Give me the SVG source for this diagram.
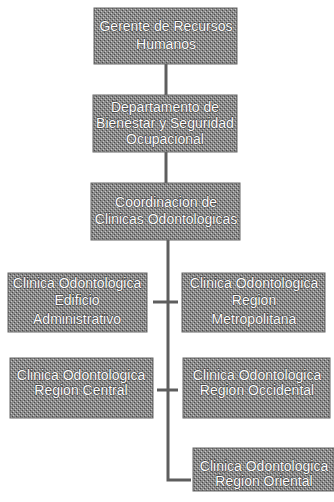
<svg xmlns="http://www.w3.org/2000/svg" width="334" height="502" viewBox="0 0 334 502">
<defs>
<pattern id="dith" width="4" height="4" patternUnits="userSpaceOnUse">
<rect width="4" height="4" fill="#8a8a8a"/>
<rect x="0" y="0" width="1" height="1" fill="#4a4a4a"/>
<rect x="2" y="2" width="1" height="1" fill="#4a4a4a"/>
<rect x="1" y="3" width="1" height="1" fill="#c8c8c8"/>
<rect x="3" y="1" width="1" height="1" fill="#c8c8c8"/>
</pattern>
</defs>
<style>
.box{fill:url(#dith);stroke:#666;stroke-width:1}
.t{font-family:"Liberation Sans",Arial,sans-serif;font-size:14px;fill:#fff;stroke:#2a2a2a;stroke-width:0.8;paint-order:stroke;text-anchor:middle}
.c{stroke:#5e5e5e;stroke-width:3;fill:none}
</style>
<rect width="334" height="502" fill="#fff"/>
<g id="connectors">
<line class="c" x1="166" y1="64" x2="166" y2="95"/>
<line class="c" x1="166" y1="152" x2="166" y2="183"/>
<polyline class="c" points="168,240 168,480 191,480"/>
<line class="c" x1="153" y1="302" x2="178" y2="302"/>
<line class="c" x1="157" y1="390" x2="178" y2="390"/>
</g>
<g id="n1">
<rect class="box" x="94" y="8" width="143" height="56"/>
<text class="t" x="166" y="31">Gerente de Recursos</text>
<text class="t" x="166" y="49">Humanos</text>
</g>
<g id="n2">
<rect class="box" x="93" y="95" width="144" height="57"/>
<text class="t" x="165" y="112">Departamento de</text>
<text class="t" x="165" y="128">Bienestar y Seguridad</text>
<text class="t" x="165" y="144">Ocupacional</text>
</g>
<g id="n3">
<rect class="box" x="91" y="183" width="149" height="57"/>
<text class="t" x="166" y="207">Coordinacion de</text>
<text class="t" x="166" y="224">Clinicas Odontologicas</text>
</g>
<g id="n4">
<rect class="box" x="8" y="273" width="139" height="59"/>
<text class="t" x="77" y="288">Clinica Odontologica</text>
<text class="t" x="77" y="305">Edificio</text>
<text class="t" x="77" y="324">Administrativo</text>
</g>
<g id="n5">
<rect class="box" x="182" y="273" width="143" height="59"/>
<text class="t" x="254" y="288">Clinica Odontologica</text>
<text class="t" x="254" y="305">Region</text>
<text class="t" x="254" y="324">Metropolitana</text>
</g>
<g id="n6">
<rect class="box" x="10" y="358" width="143" height="60"/>
<text class="t" x="81" y="380">Clinica Odontologica</text>
<text class="t" x="81" y="395">Region Central</text>
</g>
<g id="n7">
<rect class="box" x="183" y="358" width="147" height="60"/>
<text class="t" x="257" y="380">Clinica Odontologica</text>
<text class="t" x="257" y="395">Region Occidental</text>
</g>
<g id="n8">
<rect class="box" x="193" y="448" width="141" height="43"/>
<text class="t" x="264" y="471">Clinica Odontologica</text>
<text class="t" x="264" y="486">Region Oriental</text>
</g>
</svg>
